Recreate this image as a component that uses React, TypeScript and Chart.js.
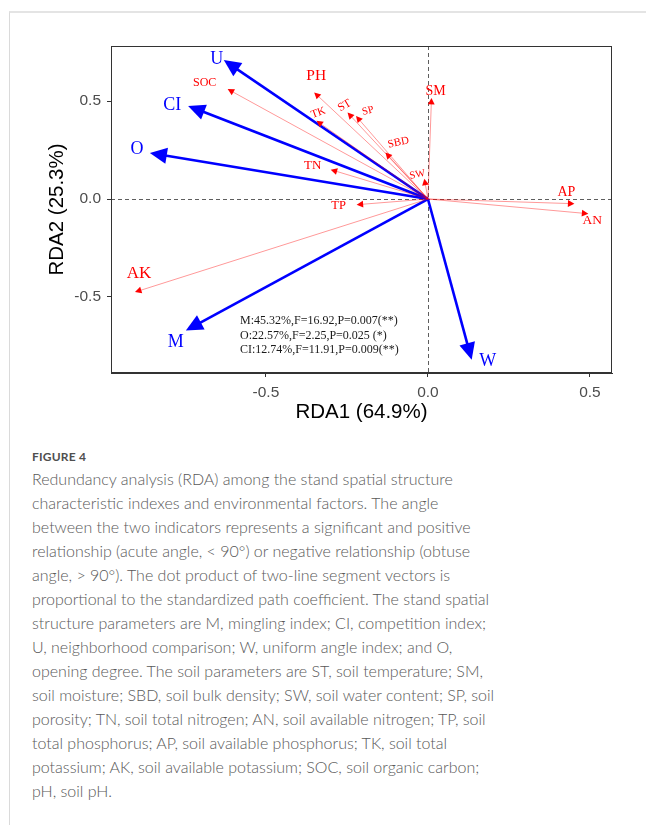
import React, { useEffect, useRef } from "react";
import { Chart, registerables } from "chart.js";

Chart.register(...registerables);

// Stand spatial structure vectors (blue)
const structureNames = ["U", "CI", "O", "M", "W"];
const structureRDA1 = [-0.63, -0.74, -0.858, -0.747, 0.135];
const structureRDA2 = [0.709, 0.475, 0.235, -0.671, -0.821];

// Soil factor vectors (red)
const soilNames = ["SOC", "PH", "TK", "ST", "SP", "SBD", "TN", "SW", "SM", "TP", "AP", "AN", "AK"];
const soilRDA1 = [-0.618, -0.351, -0.344, -0.248, -0.222, -0.131, -0.3, -0.011, 0.011, -0.22, 0.452, 0.495, -0.904];
const soilRDA2 = [0.561, 0.544, 0.399, 0.441, 0.424, 0.237, 0.15, 0.104, 0.516, -0.029, -0.024, -0.075, -0.475];

const xTicks = [-0.5, 0, 0.5];
const yTicks = [-0.5, 0, 0.5];
const xLimits = [-0.978, 0.568];
const yLimits = [-0.888, 0.781];

const statLines = [
  "M:45.32%,F=16.92,P=0.007(**)",
  "O:22.57%,F=2.25,P=0.025 (*)",
  "CI:12.74%,F=11.91,P=0.009(**)",
];

const captionLines = [
  "Redundancy analysis (RDA) among the stand spatial structure",
  "characteristic indexes and environmental factors. The angle",
  "between the two indicators represents a significant and positive",
  "relationship (acute angle, < 90°) or negative relationship (obtuse",
  "angle, > 90°). The dot product of two-line segment vectors is",
  "proportional to the standardized path coefficient. The stand spatial",
  "structure parameters are M, mingling index; CI, competition index;",
  "U, neighborhood comparison; W, uniform angle index; and O,",
  "opening degree. The soil parameters are ST, soil temperature; SM,",
  "soil moisture; SBD, soil bulk density; SW, soil water content; SP, soil",
  "porosity; TN, soil total nitrogen; AN, soil available nitrogen; TP, soil",
  "total phosphorus; AP, soil available phosphorus; TK, soil total",
  "potassium; AK, soil available potassium; SOC, soil organic carbon;",
  "pH, soil pH.",
];

// label placement relative to the arrow tip (pixels), font size, rotation (deg)
const labelStyle: Record<string, { dx: number; dy: number; size: number; rot?: number }> = {
  U: { dx: -7, dy: -1, size: 18 },
  CI: { dx: -16, dy: -1, size: 18 },
  O: { dx: -13, dy: -4, size: 18 },
  M: { dx: -10, dy: 12, size: 18 },
  W: { dx: 16, dy: 1, size: 18 },
  SOC: { dx: -23, dy: -6, size: 12 },
  PH: { dx: 2, dy: -17, size: 15.5 },
  TK: { dx: 2, dy: -8, size: 11, rot: -20 },
  ST: { dx: -3, dy: -7, size: 11.5, rot: -30 },
  SP: { dx: 12, dy: -5, size: 10.5, rot: -15 },
  SBD: { dx: 13, dy: -10, size: 11, rot: -12 },
  TN: { dx: -18, dy: -4, size: 13 },
  SW: { dx: -7, dy: -4, size: 10.5, rot: -12 },
  SM: { dx: 4, dy: -7, size: 14 },
  TP: { dx: -18, dy: 1, size: 12.5 },
  AP: { dx: -8, dy: -11, size: 14 },
  AN: { dx: 4, dy: 7, size: 13.5 },
  AK: { dx: 4, dy: -19, size: 17 },
};

const SERIF = '"Liberation Serif", "Times New Roman", serif';
const SANS = '"Liberation Sans", Arial, sans-serif';

function drawArrow(
  ctx: CanvasRenderingContext2D,
  x0: number, y0: number, x1: number, y1: number,
  lineColor: string, headColor: string, width: number, headLen: number, headHalf: number
) {
  const dx = x1 - x0;
  const dy = y1 - y0;
  const len = Math.hypot(dx, dy) || 1;
  const ux = dx / len;
  const uy = dy / len;
  const bx = x1 - ux * headLen;
  const by = y1 - uy * headLen;
  ctx.strokeStyle = lineColor;
  ctx.lineWidth = width;
  ctx.lineCap = "butt";
  ctx.beginPath();
  ctx.moveTo(x0, y0);
  ctx.lineTo(bx + ux * 1.5, by + uy * 1.5);
  ctx.stroke();
  ctx.fillStyle = headColor;
  ctx.beginPath();
  ctx.moveTo(x1, y1);
  ctx.lineTo(bx - uy * headHalf, by + ux * headHalf);
  ctx.lineTo(bx + uy * headHalf, by - ux * headHalf);
  ctx.closePath();
  ctx.fill();
}

const rdaPlugin = {
  id: "rdaBiplot",
  beforeDatasetsDraw(chart: any) {
    const { ctx, chartArea, scales } = chart;
    const x0 = Math.round(scales.x.getPixelForValue(0)) + 0.5;
    const y0 = Math.round(scales.y.getPixelForValue(0)) + 0.5;
    ctx.save();
    ctx.strokeStyle = "#5e5e5e";
    ctx.lineWidth = 1;
    ctx.setLineDash([4, 3]);
    ctx.beginPath();
    ctx.moveTo(chartArea.left, y0);
    ctx.lineTo(chartArea.right, y0);
    ctx.moveTo(x0, chartArea.top);
    ctx.lineTo(x0, chartArea.bottom);
    ctx.stroke();
    ctx.restore();
  },
  afterDatasetsDraw(chart: any) {
    const { ctx, chartArea, scales } = chart;
    ctx.save();
    chart.data.datasets.forEach((ds: any, i: number) => {
      const meta = chart.getDatasetMeta(i);
      const [o, t] = meta.data;
      if (ds.group === "structure") {
        drawArrow(ctx, o.x, o.y, t.x, t.y, "#0000ff", "#0000ff", 2.6, 17, 8);
      } else {
        drawArrow(ctx, o.x, o.y, t.x, t.y, "rgba(255,0,0,0.45)", "#ff0000", 0.9, 6.5, 3.4);
      }
    });
    // vector labels
    chart.data.datasets.forEach((ds: any, i: number) => {
      const meta = chart.getDatasetMeta(i);
      const t = meta.data[1];
      const st = labelStyle[ds.label];
      ctx.save();
      ctx.translate(t.x + st.dx, t.y + st.dy);
      if (st.rot) ctx.rotate((st.rot * Math.PI) / 180);
      ctx.fillStyle = ds.group === "structure" ? "#0000ff" : "#ff0000";
      ctx.font = `${st.size}px ${SERIF}`;
      ctx.textAlign = "center";
      ctx.textBaseline = "middle";
      ctx.fillText(ds.label, 0, 0);
      ctx.restore();
    });
    // constraint test summary
    const sx = scales.x.getPixelForValue(-0.58);
    const sy = scales.y.getPixelForValue(-0.623);
    ctx.fillStyle = "#1a1a1a";
    ctx.font = `12px ${SERIF}`;
    ctx.textAlign = "left";
    ctx.textBaseline = "middle";
    statLines.forEach((line, k) => ctx.fillText(line, sx, sy + k * 14.3));
    // panel border
    ctx.strokeStyle = "#333333";
    ctx.lineWidth = 1;
    ctx.setLineDash([]);
    ctx.strokeRect(
      Math.round(chartArea.left) + 0.5,
      Math.round(chartArea.top) + 0.5,
      Math.round(chartArea.right - chartArea.left) - 1,
      Math.round(chartArea.bottom - chartArea.top) - 1
    );
    ctx.restore();
  },
};

export default function App() {
  const canvasRef = useRef<HTMLCanvasElement | null>(null);

  useEffect(() => {
    if (!canvasRef.current) return;
    const datasets: any[] = [];
    structureNames.forEach((n, i) =>
      datasets.push({
        label: n,
        group: "structure",
        data: [{ x: 0, y: 0 }, { x: structureRDA1[i], y: structureRDA2[i] }],
        pointRadius: 0,
        showLine: false,
      })
    );
    soilNames.forEach((n, i) =>
      datasets.push({
        label: n,
        group: "soil",
        data: [{ x: 0, y: 0 }, { x: soilRDA1[i], y: soilRDA2[i] }],
        pointRadius: 0,
        showLine: false,
      })
    );

    const axisCommon = {
      type: "linear",
      grid: { drawOnChartArea: false, drawTicks: true, tickLength: 4, color: "#333333", lineWidth: 1 },
      border: { display: true, color: "#333333", width: 1 },
    };

    const chart = new Chart(canvasRef.current, {
      type: "scatter",
      data: { datasets },
      options: {
        animation: false,
        responsive: false,
        maintainAspectRatio: false,
        events: [],
        layout: { padding: { left: 0, top: 46, right: 34, bottom: 0 } },
        plugins: { legend: { display: false }, tooltip: { enabled: false } },
        scales: {
          x: {
            ...axisCommon,
            min: xLimits[0],
            max: xLimits[1],
            afterBuildTicks: (s: any) => {
              s.ticks = xTicks.map((v) => ({ value: v }));
            },
            afterFit: (s: any) => {
              s.height = 67;
            },
            ticks: {
              autoSkip: false,
              maxRotation: 0,
              padding: 6,
              color: "#4d4d4d",
              font: { family: SANS, size: 15.5 },
              callback: (v: any) => Number(v).toFixed(1),
            },
            title: {
              display: true,
              text: "RDA1 (64.9%)",
              color: "#000000",
              font: { family: SANS, size: 20.5 },
              padding: { top: 0, bottom: 15 },
            },
          },
          y: {
            ...axisCommon,
            min: yLimits[0],
            max: yLimits[1],
            afterBuildTicks: (s: any) => {
              s.ticks = yTicks.map((v) => ({ value: v }));
            },
            afterFit: (s: any) => {
              s.width = 111;
            },
            ticks: {
              autoSkip: false,
              padding: 6,
              color: "#4d4d4d",
              font: { family: SANS, size: 15.5 },
              callback: (v: any) => Number(v).toFixed(1),
            },
            title: {
              display: true,
              text: "RDA2 (25.3%)",
              color: "#000000",
              font: { family: SANS, size: 20.5 },
              padding: { top: 45, bottom: 0 },
            },
          },
        },
      } as any,
      plugins: [rdaPlugin as any],
    });
    return () => chart.destroy();
  }, []);

  return (
    <div style={{ position: "absolute", left: 0, top: 0, width: 646, height: 825, background: "#ffffff", overflow: "hidden" }}>
      <div
        style={{
          position: "absolute",
          left: 9,
          top: 11,
          right: 0,
          bottom: 0,
          borderTop: "2px solid #e4e4e4",
          borderLeft: "1px solid #dadada",
        }}
      />
      <canvas ref={canvasRef} width={646} height={440} style={{ position: "absolute", left: 0, top: 0, display: "block" }} />
      <div
        style={{
          position: "absolute",
          left: 32,
          top: 449,
          fontFamily: "Lato, sans-serif",
          fontWeight: 700,
          fontSize: 12,
          lineHeight: "16px",
          color: "#4f4f4f",
          letterSpacing: 0.2,
        }}
      >
        FIGURE 4
      </div>
      <div
        style={{
          position: "absolute",
          left: 32,
          top: 467,
          fontFamily: "Lato, sans-serif",
          fontWeight: 300,
          fontSize: 16,
          lineHeight: "24px",
          color: "#595959",
          whiteSpace: "nowrap",
        }}
      >
        {captionLines.map((l, i) => (
          <div key={i}>{l}</div>
        ))}
      </div>
    </div>
  );
}
